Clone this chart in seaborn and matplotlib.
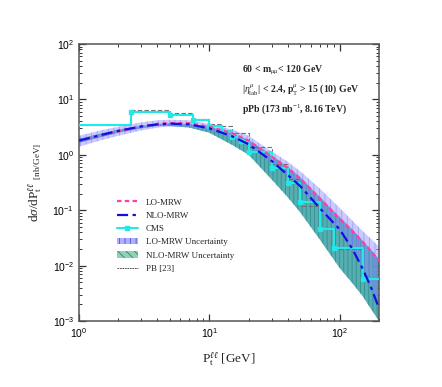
import matplotlib
matplotlib.use("Agg")
import matplotlib.pyplot as plt
from matplotlib.patches import Patch
from matplotlib.lines import Line2D
from matplotlib.ticker import LogLocator, NullFormatter
import numpy as np
import pandas as pd
import seaborn as sns

# transverse momentum grid of the theory curves (GeV)
pt_theory = [1, 1.5, 2, 3, 4, 5, 7, 10, 15, 20, 30, 40, 50, 70, 100, 125, 150, 175, 200]

# LO-MRW and NLO-MRW central predictions (nb/GeV)
lo_mrw = [1.75, 2.25, 2.65, 3.25, 3.6, 3.75, 3.7, 3.2, 2.45, 1.8, 0.93, 0.58, 0.37, 0.165, 0.07, 0.042, 0.027, 0.018, 0.012]
nlo_mrw = [1.8, 2.3, 2.7, 3.25, 3.55, 3.65, 3.55, 3.0, 2.15, 1.55, 0.78, 0.43, 0.27, 0.11, 0.045, 0.02, 0.0088, 0.0039, 0.0017]

# uncertainty bands
lo_up = [2.2, 2.8, 3.2, 3.85, 4.2, 4.3, 4.2, 3.6, 2.85, 2.2, 1.15, 0.75, 0.5, 0.25, 0.11, 0.065, 0.042, 0.03, 0.022]
lo_low = [1.4, 1.85, 2.2, 2.75, 3.1, 3.25, 3.2, 2.75, 2.0, 1.45, 0.72, 0.41, 0.26, 0.1, 0.04, 0.018, 0.0085, 0.004, 0.0018]
nlo_up = [1.95, 2.45, 2.85, 3.35, 3.6, 3.7, 3.6, 3.2, 2.45, 1.85, 0.98, 0.6, 0.39, 0.175, 0.075, 0.045, 0.028, 0.019, 0.013]
nlo_low = [1.65, 2.1, 2.5, 3.0, 3.3, 3.3, 3.1, 2.5, 1.5, 1.0, 0.36, 0.17, 0.09, 0.03, 0.009, 0.0048, 0.0028, 0.0016, 0.001]

# measured bins (CMS) and PB [23] histogram
bin_edges = [1, 2.5, 5, 7.5, 10, 12.5, 15, 17.5, 20, 30, 40, 50, 70, 90, 150, 200]
cms = [3.5, 6.0, 5.3, 4.2, 3.3, 2.7, 2.14, 1.74, 1.12, 0.575, 0.31, 0.138, 0.046, 0.0206, 0.0057]
pb = [3.5, 6.5, 5.7, 4.4, 3.6, 3.25, 2.5, 2.5, 1.41, 0.68, 0.36, 0.117, 0.045, 0.02, 0.006]

df_th = pd.DataFrame({'pt': pt_theory, 'lo': lo_mrw, 'nlo': nlo_mrw})
df_step = pd.DataFrame({'pt': bin_edges, 'cms': cms + [cms[-1]], 'pb': pb + [pb[-1]]})

sns.set_style("ticks")
plt.rcParams['font.family'] = ['Liberation Sans', 'DejaVu Sans']
plt.rcParams['mathtext.fontset'] = 'custom'
plt.rcParams['mathtext.rm'] = 'Liberation Serif'
plt.rcParams['mathtext.it'] = 'Liberation Serif:italic'
plt.rcParams['mathtext.bf'] = 'Liberation Serif:bold'
plt.rcParams['hatch.linewidth'] = 0.6

fig = plt.figure(figsize=(4.42, 3.87), dpi=100)
ax = fig.add_axes([0.1787, 0.1705, 0.6787, 0.7158])

# uncertainty bands
ax.fill_between(pt_theory, nlo_low, nlo_up, facecolor='#45a5a8', edgecolor='#2f8c90',
                hatch='||||', linewidth=0, alpha=0.9, zorder=1)
ax.fill_between(pt_theory, lo_low, lo_up, facecolor='#8a8aff', edgecolor='#6a6af0',
                hatch='|||', linewidth=0, alpha=0.45, zorder=2)

# PB [23] and CMS histograms
sns.lineplot(data=df_step, x='pt', y='pb', ax=ax, color='#707070', linestyle=(0, (4, 2)),
             linewidth=0.8, drawstyle='steps-post', zorder=3)
sns.lineplot(data=df_step, x='pt', y='cms', ax=ax, color='#22e8e8', linewidth=1.5,
             drawstyle='steps-post', zorder=4)
ax.plot(bin_edges[1:-1], cms[1:], 's', color='#22e8e8', markersize=3.5, zorder=4)

# theory curves
sns.lineplot(data=df_th, x='pt', y='lo', ax=ax, color='#ff3fa8', linewidth=1.6,
             linestyle=(0, (2, 1.5)), zorder=5)
sns.lineplot(data=df_th, x='pt', y='nlo', ax=ax, color='#1010e0', linewidth=1.6,
             linestyle=(0, (5, 2, 1.5, 2)), zorder=6)

ax.set_xscale('log')
ax.set_yscale('log')
ax.set_xlim(1, 200)
ax.set_ylim(1e-3, 1e2)
ax.xaxis.set_minor_locator(LogLocator(base=10, subs=np.arange(2, 10)))
ax.yaxis.set_minor_locator(LogLocator(base=10, subs=np.arange(2, 10), numticks=20))
ax.xaxis.set_minor_formatter(NullFormatter())
ax.yaxis.set_minor_formatter(NullFormatter())
ax.tick_params(which='both', direction='in', top=True, right=True, colors='#333333',
               labelcolor='black', labelsize=7.5)
ax.tick_params(which='major', length=5, width=0.9)
ax.tick_params(which='minor', length=2.5, width=0.7)
for s in ax.spines.values():
    s.set_color('#555555')
    s.set_linewidth(1.1)

ax.set_xlabel(r'P$_{\rm t}^{\ell\ell}$ [GeV]', fontsize=9.5, family='Liberation Serif', labelpad=8)
ax.set_ylabel(r'd$\sigma$/dP$_{\rm t}^{\ell\ell}$ $_{\rm [nb/GeV]}$', fontsize=9.5,
              family='Liberation Serif', labelpad=6)

# annotation
ann = [r'60 < m$_{\mu\mu}$< 120 GeV',
       r'|$\eta^{\mu}_{\rm lab}$| < 2.4, p$_{\rm T}^{\mu}$ > 15 (10) GeV',
       r'pPb (173 nb$^{-1}$, 8.16 TeV)']
for i, t in enumerate(ann):
    ax.text(0.545, 0.905 - i * 0.07, t, transform=ax.transAxes, fontsize=7,
            family='Liberation Serif', weight='bold', va='center')

handles = [
    Line2D([], [], color='#ff3fa8', linewidth=1.6, linestyle=(0, (2, 1.5))),
    Line2D([], [], color='#1010e0', linewidth=1.6, linestyle=(0, (5, 2, 1.5, 2))),
    Line2D([], [], color='#22e8e8', linewidth=1.5, marker='s', markersize=3),
    Patch(facecolor='#b0b0ff', edgecolor='#5050e0', hatch='|||', linewidth=0),
    Patch(facecolor='#8fd0b8', edgecolor='#2e8b60', hatch='\\\\\\\\', linewidth=0),
    Line2D([], [], color='#333333', linewidth=0.6, linestyle=(0, (2, 1))),
]
labels = ['LO-MRW', 'NLO-MRW', 'CMS', 'LO-MRW Uncertainty', 'NLO-MRW Uncertainty', 'PB [23]']
ax.legend(handles, labels, loc='upper left', bbox_to_anchor=(0.115, 0.456), frameon=False,
          prop={'family': 'Liberation Serif', 'size': 6.5}, handlelength=2.3,
          labelspacing=0.55, borderaxespad=0, handletextpad=0.9)

fig.savefig('out.png', dpi=100)
